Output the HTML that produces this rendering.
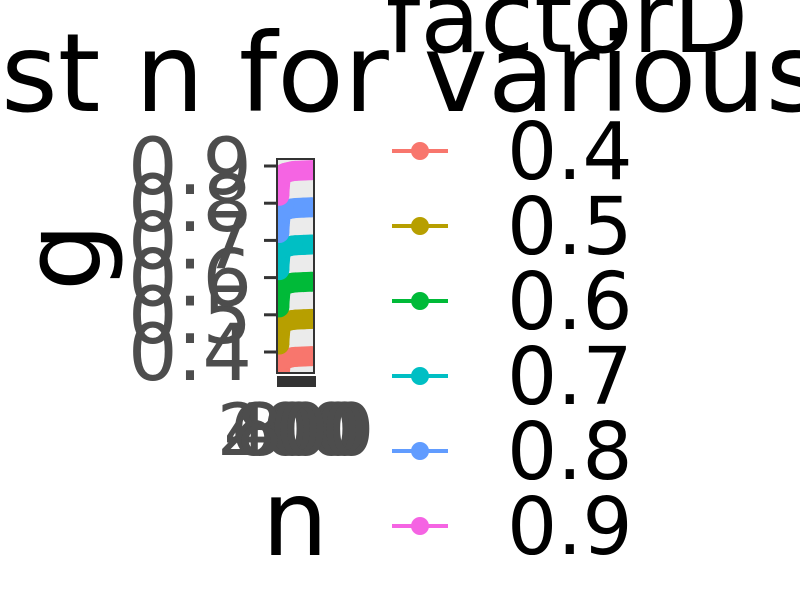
<!DOCTYPE html>
<html><head><meta charset="utf-8"><style>
html,body{margin:0;padding:0;background:#fff;width:800px;height:600px;overflow:hidden}
svg{display:block;font-family:"DejaVu Sans","Liberation Sans",sans-serif}
</style></head><body>
<svg id="chart" width="800" height="600">
<text x="-405" y="111" font-size="109" fill="#000">g against n for various factorD</text>
<text x="567" y="52" text-anchor="middle" font-size="98" fill="#000">factorD</text>
<text transform="translate(100,257) rotate(-90)" text-anchor="middle" font-size="108" fill="#000">g</text>
<text x="295" y="555" text-anchor="middle" font-size="105" fill="#000">n</text>
<rect x="277" y="159" width="37" height="214" fill="#ebebeb"/>
<clipPath id="clip"><rect x="277" y="159" width="37" height="214"/></clipPath>
<g id="series" clip-path="url(#clip)"></g>
<rect x="277" y="159" width="37" height="214" fill="none" stroke="#333" stroke-width="2"/>
<rect x="277" y="376" width="39" height="11" fill="#333"/>
<g id="yaxis"></g><g id="xaxis"></g><g id="legend"></g>
</svg>
<script>
const factors = [0.4,0.5,0.6,0.7,0.8,0.9];
const colors = ["#f8766d","#b79f00","#00ba38","#00bfc4","#619cff","#f564e3"];
const nValues = [10,20,30,50,75,100,150,200,300,400,500,750,1000];
const gOffsets = [0.07,0.05,0.04,0.025,0.015,0.012,0.01,0.008,0.006,0.004,0.003,0.002,0.001];
const yTicks = [0.4,0.5,0.6,0.7,0.8,0.9];
const xTicks = [200,400,600,800];
const NS="http://www.w3.org/2000/svg";
const X=n=>279+(n/1000)*33;
const Y=v=>352-(v-0.4)*372;
function mk(t,a,p){const e=document.createElementNS(NS,t);for(const k in a)e.setAttribute(k,a[k]);(p||document.getElementById('chart')).appendChild(e);return e;}
const sg=document.getElementById('series');
factors.forEach((f,i)=>{
  const g=mk('g',{},sg);
  
  
  const pts=nValues.map((n,j)=>X(n)+','+Y(f-gOffsets[j]-0.01)).join(' ');
  const pl=mk('polyline',{points:pts,fill:'none',stroke:colors[i],'stroke-width':20,'stroke-linejoin':'round'},g);
  
  
  nValues.forEach((n,j)=>{
    const c=mk('circle',{cx:X(n),cy:Y(f-gOffsets[j]-0.01),r:10,fill:colors[i]},g);
    
    
  });
});
const ya=document.getElementById('yaxis');
yTicks.forEach(v=>{
  const l=mk('line',{x1:264,x2:277,y1:Y(v),y2:Y(v),stroke:'#333','stroke-width':3},ya);
  
  
  const t=mk('text',{x:252,y:Y(v)+28,'text-anchor':'end','font-size':78,fill:'#4d4d4d'},ya);
  t.textContent=v.toFixed(1);
  
  
});
const xa=document.getElementById('xaxis');
xTicks.forEach(v=>{
  const t=mk('text',{x:X(v),y:455,'text-anchor':'middle','font-size':72,fill:'#4d4d4d'},xa);
  t.textContent=v;
  
  
});
const lg=document.getElementById('legend');
factors.forEach((f,i)=>{
  const y=151+i*75;
  const g=mk('g',{},lg);
  
  
  mk('line',{x1:392,x2:448,y1:y,y2:y,stroke:colors[i],'stroke-width':4},g);
  mk('circle',{cx:420,cy:y,r:9,fill:colors[i]},g);
  const t=mk('text',{x:507,y:y+28,'font-size':79,fill:'#000'},g);
  t.textContent=f.toFixed(1);
});
</script>
</body></html>
